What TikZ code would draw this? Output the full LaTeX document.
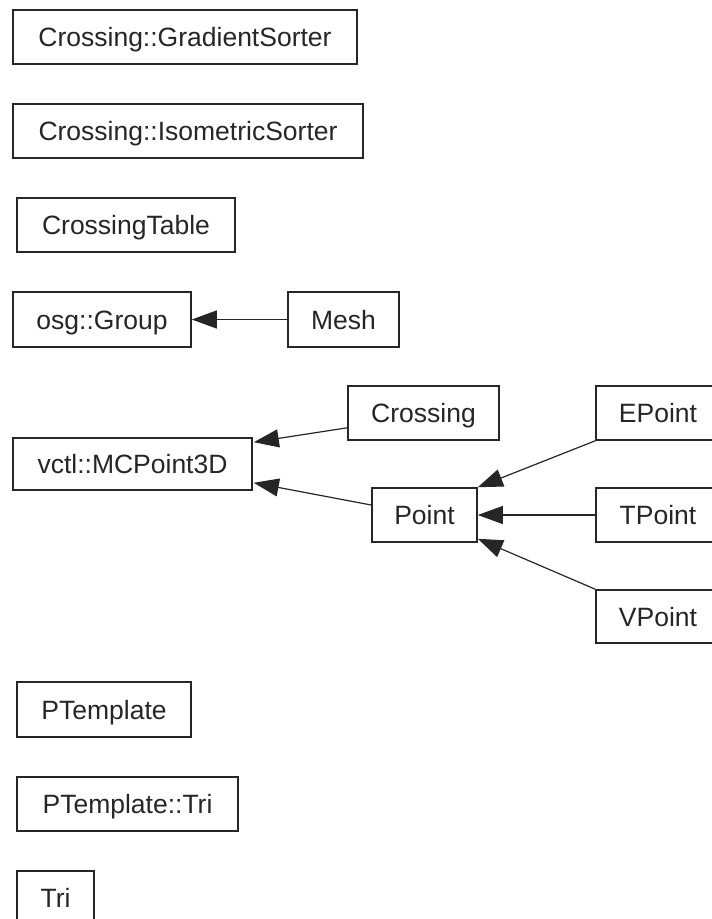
\documentclass[tikz,border=0pt]{standalone}
\usepackage{fontspec}
\setmainfont{Liberation Sans}
\usetikzlibrary{arrows.meta,calc}
\begin{document}
\begin{tikzpicture}[x=1pt,y=-1pt,
  cls/.style={draw=black!85,line width=1.6pt,rectangle,inner sep=0pt,
    minimum height=54pt,text=black!85,text height=19pt,text depth=0pt,
    font=\fontsize{26.5}{30}\selectfont},
  inh/.style={draw=black!85,line width=1.2pt,
    -{Triangle[length=25pt,width=18pt,fill=black!85]}}]
\useasboundingbox (0,0) rectangle (712,919);
\clip (0,0) rectangle (712,919);
\fill[white] (0,0) rectangle (712,919);

% stand-alone classes
\node[cls,minimum width=344pt] (gs) at (185,37) {Crossing::GradientSorter};
\node[cls,minimum width=350pt] (is) at (188,131) {Crossing::IsometricSorter};
\node[cls,minimum width=218pt] (ct) at (126,225) {CrossingTable};

% osg::Group hierarchy
\node[cls,minimum width=178pt,minimum height=55pt] (grp) at (102,319.5) {osg::Group};
\node[cls,minimum width=111pt,minimum height=55pt] (mesh) at (343.5,319.5) {Mesh};

% vctl::MCPoint3D hierarchy
\node[cls,minimum width=239pt,minimum height=52pt] (mc) at (132.5,464) {vctl::MCPoint3D};
\node[cls,minimum width=151pt] (cr) at (423.5,413) {Crossing};
\node[cls,minimum width=105pt] (pt) at (424.5,515) {Point};
\node[cls,minimum width=124pt] (ep) at (658,413) {EPoint};
\node[cls,minimum width=124pt] (tp) at (658,515) {TPoint};
\node[cls,minimum width=124pt,minimum height=53pt] (vp) at (658,616.5) {VPoint};

% templates
\node[cls,minimum width=174pt,minimum height=55pt] (ptm) at (104,709.5) {PTemplate};
\node[cls,minimum width=221pt] (ptt) at (127.5,804) {PTemplate::Tri};
\node[cls,minimum width=77pt] (tri) at (55.5,898) {Tri};

% inheritance arrows
\draw[inh] (mesh.west) -- (grp.east);
\draw[inh] ($(cr.south west)+(0,-13)$) -- ($(mc.north east)+(1,5)$);
\draw[inh] ($(pt.west)+(0,-10)$) -- ($(mc.south east)+(1,-8)$);
\draw[inh] (ep.south west) -- (pt.north east);
\draw[inh] (tp.west) -- (pt.east);
\draw[inh] (vp.north west) -- ($(pt.south east)+(0,-4)$);
\end{tikzpicture}
\end{document}
